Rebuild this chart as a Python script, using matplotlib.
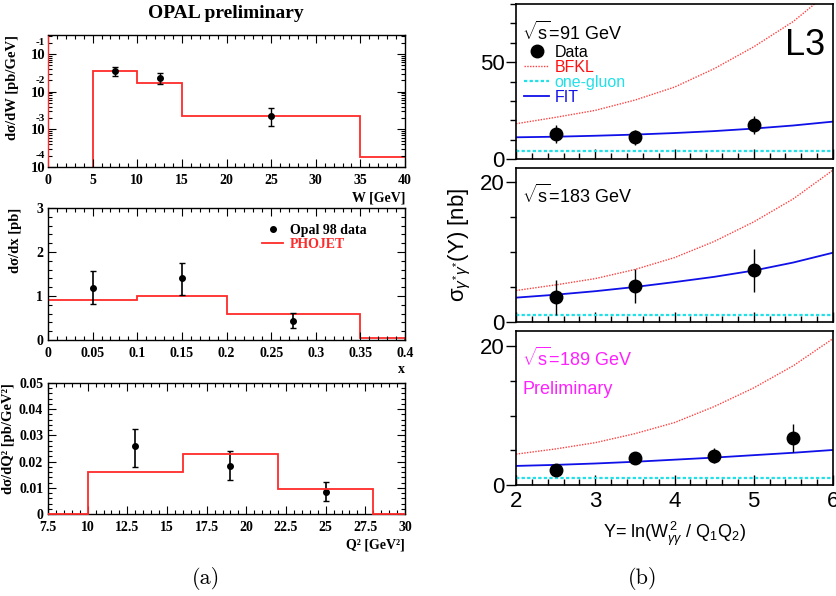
import numpy as np
import matplotlib
matplotlib.use('Agg')
import matplotlib.pyplot as plt
from matplotlib.lines import Line2D
from matplotlib.ticker import MultipleLocator, LogLocator, NullFormatter

plt.rcParams['font.family'] = ['Liberation Sans', 'DejaVu Sans']
plt.rcParams['mathtext.fontset'] = 'custom'
plt.rcParams['mathtext.rm'] = 'Liberation Sans'
plt.rcParams['mathtext.it'] = 'Liberation Sans:italic'
plt.rcParams['mathtext.bf'] = 'Liberation Sans:bold'

# ---- (a) OPAL preliminary ----
w_edges = [0, 5, 10, 15, 35, 40]
w_phojet = [0, 0.036, 0.0174, 0.00227, 0.00019]
w_x = [7.5, 12.5, 25]
w_y = [0.035, 0.023, 0.0023]
w_elo = [0.009, 0.007, 0.0011]
w_ehi = [0.010, 0.008, 0.0013]
w_ticks = ['0', '5', '10', '15', '20', '25', '30', '35', '40']
w_decades = [-4, -3, -2, -1]

x_edges = [0, 0.1, 0.2, 0.35, 0.4]
x_phojet = [0.91, 1.0, 0.59, 0.04]
x_x = [0.05, 0.15, 0.275]
x_y = [1.18, 1.40, 0.43]
x_elo = [0.37, 0.37, 0.16]
x_ehi = [0.38, 0.36, 0.19]
x_ticks = ['0', '0.05', '0.1', '0.15', '0.2', '0.25', '0.3', '0.35', '0.4']
x_yticks = ['0', '1', '2', '3']

q_edges = [7.5, 10, 16, 22, 28, 30]
q_phojet = [0, 0.0159, 0.023, 0.0097, 0]
q_x = [13, 19, 25]
q_y = [0.0258, 0.0184, 0.0085]
q_elo = [0.0079, 0.0056, 0.0035]
q_ehi = [0.0067, 0.0058, 0.0036]
q_ticks = ['7.5', '10', '12.5', '15', '17.5', '20', '22.5', '25', '27.5', '30']
q_yticks = ['0', '0.01', '0.02', '0.03', '0.04', '0.05']

# ---- (b) L3 ----
Y_curve = [2.0, 2.5, 3.0, 3.5, 4.0, 4.5, 5.0, 5.5, 6.0]
bfkl_91 = [18.2, 21.5, 25.1, 30.4, 37.1, 46.6, 57.9, 71.0, 87.8]
fit_91 = [11.2, 11.5, 12.0, 12.6, 13.4, 14.4, 15.7, 17.3, 19.3]
glu_91 = [4.3] * 9
Y_91 = [2.5, 3.5, 5.0]
sig_91 = [12.9, 11.2, 17.4]
err_91 = [4.7, 3.9, 4.7]

bfkl_183 = [4.5, 5.3, 6.2, 7.5, 9.2, 11.5, 14.3, 17.6, 21.7]
fit_183 = [3.48, 3.9, 4.4, 5.0, 5.7, 6.45, 7.35, 8.5, 9.9]
glu_183 = [0.96] * 9
Y_183 = [2.5, 3.5, 5.0]
sig_183 = [3.57, 5.14, 7.38]
err_183 = [2.5, 2.4, 3.05]

bfkl_189 = [4.45, 5.2, 6.1, 7.4, 9.0, 11.3, 14.0, 17.2, 21.1]
fit_189 = [2.75, 2.9, 3.1, 3.35, 3.65, 3.95, 4.3, 4.65, 5.05]
glu_189 = [1.06] * 9
Y_189 = [2.5, 3.5, 4.5, 5.5]
sig_189 = [2.17, 3.85, 4.24, 6.74]
err_189 = [0.3, 0.4, 1.1, 2.05]

fig = plt.figure(figsize=(8.36, 5.96), dpi=100)
W, H = 836.0, 596.0


def box(x0, y0, x1, y1):
    return [x0 / W, 1 - y1 / H, (x1 - x0) / W, (y1 - y0) / H]


serif = dict(fontfamily='Liberation Serif', fontweight='bold')
phred = '#ff2a2a'


def left_style(ax, xlabels, ylabels=None):
    xt = [float(t) for t in xlabels]
    ax.set_xticks(xt)
    ax.set_xticklabels(xlabels, fontsize=10, **serif)
    ax.set_xlim(xt[0], xt[-1])
    if ylabels is not None:
        yt = [float(t) for t in ylabels]
        ax.set_yticks(yt)
        ax.set_yticklabels(ylabels, fontsize=10, **serif)
        ax.set_ylim(yt[0], yt[-1])
    ax.tick_params(which='both', direction='in', top=True, right=True, width=0.8)
    ax.tick_params(which='major', length=6)
    ax.tick_params(which='minor', length=3)
    ax.tick_params(axis='x', pad=5)
    for s in ax.spines.values():
        s.set_linewidth(1.0)


# panel a1 : dsigma/dW
ax1 = fig.add_axes(box(48, 35, 405, 167))
ax1.set_yscale('log')
ax1.stairs(w_phojet, w_edges, baseline=None, color=phred, lw=1.3)
ln, caps, bars = ax1.errorbar(w_x, w_y, yerr=[w_elo, w_ehi], fmt='o', ms=4,
                              color='black', ecolor='black', elinewidth=1,
                              capsize=2)
for c in caps:
    c.set_color('#2a9a2a')
left_style(ax1, w_ticks)
ax1.set_ylim(1e-4, 0.32)
ax1.set_yticks([10.0 ** k for k in w_decades])
ax1.set_yticklabels(['10'] * len(w_decades), fontsize=10.5, **serif)
ax1.yaxis.set_minor_locator(LogLocator(base=10, subs=np.arange(2, 10)))
ax1.yaxis.set_minor_formatter(NullFormatter())
ax1.tick_params(axis='y', pad=2)
for k in w_decades:
    ax1.annotate(str(k), xy=(0, 10.0 ** k), xycoords=ax1.get_yaxis_transform(),
                 xytext=(-2, 8), textcoords='offset points', ha='right',
                 va='center', fontsize=8, **serif)
ax1.xaxis.set_minor_locator(MultipleLocator(1))
ax1.spines['left'].set_color(phred)
ax1.set_ylabel('dσ/dW [pb/GeV]', loc='top', fontsize=10.5, labelpad=8, **serif)
ax1.set_xlabel('W [GeV]', loc='right', fontsize=10, labelpad=3, **serif)

# panel a2 : dsigma/dx
ax2 = fig.add_axes(box(48, 208, 405, 340))
ax2.stairs(x_phojet, x_edges, baseline=0, color=phred, lw=1.3, label='PHOJET')
ax2.errorbar(x_x, x_y, yerr=[x_elo, x_ehi], fmt='o', ms=4, color='black',
             elinewidth=1.2, capsize=2, label='Opal 98 data')
left_style(ax2, x_ticks, x_yticks)
ax2.xaxis.set_minor_locator(MultipleLocator(0.01))
ax2.yaxis.set_minor_locator(MultipleLocator(0.2))
ax2.set_ylabel('dσ/dx [pb]', loc='top', fontsize=10.5, labelpad=10, **serif)
ax2.set_xlabel('x', loc='right', fontsize=10, labelpad=2, **serif)
hd = [Line2D([], [], marker='o', ls='none', color='black', ms=4),
      Line2D([], [], color=phred, lw=1.3)]
ax2.legend(hd, ['Opal 98 data', 'PHOJET'], loc='upper left',
           bbox_to_anchor=(0.6, 0.88), frameon=False, handlelength=1.5,
           handletextpad=0.5, labelspacing=0.1, borderpad=0, borderaxespad=0,
           labelcolor=['black', phred], prop=dict(family='Liberation Serif',
                                                  weight='bold', size=10))

# panel a3 : dsigma/dQ2
ax3 = fig.add_axes(box(48, 383, 405, 514))
ax3.stairs(q_phojet, q_edges, baseline=0, color=phred, lw=1.3, zorder=3,
           clip_on=False)
ax3.errorbar(q_x, q_y, yerr=[q_elo, q_ehi], fmt='o', ms=4, color='black',
             elinewidth=1.2, capsize=2)
left_style(ax3, q_ticks, q_yticks)
ax3.xaxis.set_minor_locator(MultipleLocator(0.5))
ax3.yaxis.set_minor_locator(MultipleLocator(0.002))
ax3.set_ylabel('dσ/dQ² [pb/GeV²]', loc='top', fontsize=10.5, labelpad=3, **serif)
ax3.set_xlabel('Q² [GeV²]', loc='right', fontsize=10, labelpad=3, **serif)

fig.text(226 / W, 1 - 13 / H, 'OPAL preliminary', ha='center', va='center',
         fontsize=14, **serif)

# ---- right side (b) ----
rpanels = [
    (box(516, 4, 833, 159), 80, 50, 10, bfkl_91, fit_91, glu_91, Y_91, sig_91, err_91),
    (box(516, 168, 833, 322), 22, 20, 5, bfkl_183, fit_183, glu_183, Y_183, sig_183, err_183),
    (box(516, 331, 833, 485), 22.2, 20, 5, bfkl_189, fit_189, glu_189, Y_189, sig_189, err_189),
]
raxes = []
for i, (pos, ytop, ymaj, ymin, bf, ft, gl, yd, sd, ed) in enumerate(rpanels):
    ax = fig.add_axes(pos)
    ax.plot(Y_curve, bf, ls=(0, (1, 1)), color='#ff4040', lw=1.0)
    ax.plot(Y_curve, gl, ls=(0, (1.5, 1)), color='#22e0e8', lw=1.6)
    ax.plot(Y_curve, ft, ls='-', color='#1010e8', lw=1.3)
    ax.errorbar(yd, sd, yerr=ed, fmt='o', ms=9, color='black', elinewidth=1.0,
                capsize=0)
    ax.set_xlim(2, 6)
    ax.set_ylim(0, ytop)
    ax.yaxis.set_major_locator(MultipleLocator(ymaj))
    ax.yaxis.set_minor_locator(MultipleLocator(ymin))
    ax.xaxis.set_major_locator(MultipleLocator(1))
    ax.xaxis.set_minor_locator(MultipleLocator(0.2))
    ax.tick_params(axis='y', which='both', direction='out', left=True,
                   right=False, labelsize=16, pad=1)
    ax.tick_params(axis='x', which='both', direction='in', bottom=True,
                   top=False, labelsize=16, pad=4, labelbottom=(i == 2))
    ax.tick_params(which='major', length=7, width=1)
    ax.tick_params(which='minor', length=4, width=1)
    for s in ax.spines.values():
        s.set_linewidth(1.2)
    raxes.append(ax)

r1, r2, r3 = raxes
r1.text(0.02, 0.82, r'$\sqrt{\rm s}$=91 GeV', transform=r1.transAxes,
        fontsize=13, va='center')
r1.text(0.912, 0.735, 'L3', transform=r1.transAxes, fontsize=26,
        ha='center', va='center')
lh = [Line2D([], [], marker='o', ls='none', color='black', ms=9),
      Line2D([], [], ls=(0, (1, 1)), color='#ff4040', lw=1.0),
      Line2D([], [], ls=(0, (1.5, 1)), color='#22e0e8', lw=1.6),
      Line2D([], [], ls='-', color='#1010e8', lw=1.3)]
r1.legend(lh, ['Data', 'BFKL', 'one-gluon', 'FIT'], loc='upper left',
          bbox_to_anchor=(0.025, 0.735), frameon=False, fontsize=11.5,
          handlelength=1.6, handletextpad=0.3, labelspacing=0.0,
          borderpad=0, borderaxespad=0,
          labelcolor=['black', '#ff1010', '#22e0e8', '#1010e8'])
r2.text(0.02, 0.825, r'$\sqrt{\rm s}$=183 GeV', transform=r2.transAxes,
        fontsize=13, va='center')
r3.text(0.02, 0.825, r'$\sqrt{\rm s}$=189 GeV', transform=r3.transAxes,
        fontsize=13, va='center', color='#ff20ff')
r3.text(0.02, 0.623, 'Preliminary', transform=r3.transAxes,
        fontsize=13, va='center', color='#ff20ff')
r3.set_xlabel(r'Y= ln(W$^{\,2}_{\gamma\gamma}$ / Q$_1$Q$_2$)', fontsize=13,
              labelpad=6)
fig.text(460 / W, 1 - 245 / H,
         r'$\mathrm{\sigma}_{\gamma^{*}\gamma^{*}}$(Y) [nb]',
         rotation=90, ha='center', va='center', fontsize=16)

fig.text(206 / W, 1 - 578 / H, '(a)', ha='center', va='center',
         fontsize=16, fontfamily='cmr10')
fig.text(643 / W, 1 - 578 / H, '(b)', ha='center', va='center',
         fontsize=16, fontfamily='cmr10')

fig.savefig('out.png', dpi=100)
